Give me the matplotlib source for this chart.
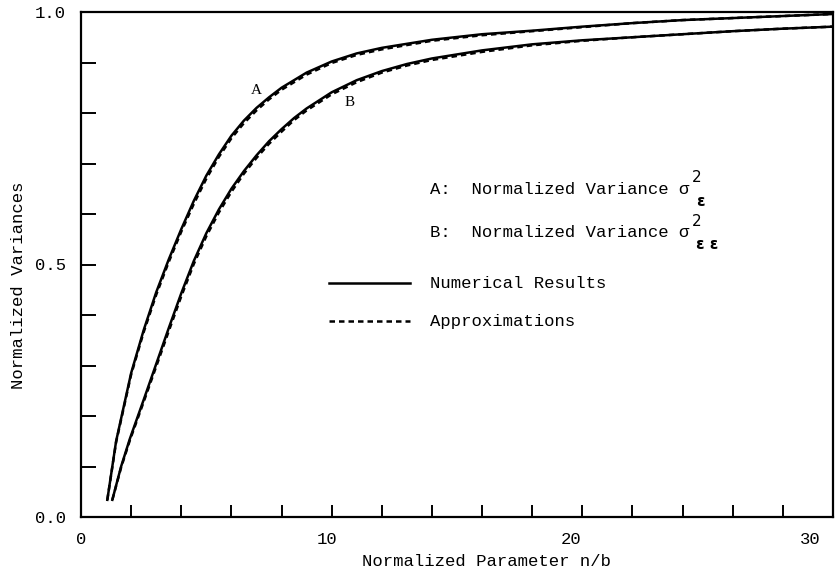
import matplotlib
matplotlib.use("Agg")
import matplotlib.pyplot as plt
from matplotlib.lines import Line2D
from matplotlib.transforms import ScaledTranslation

# ---- Data ----
n_a = [1.05, 1.4, 2.0, 2.5, 3.0, 3.5, 4.0, 4.5, 5.0, 5.5, 6.0, 6.5, 7.0, 7.5,
       8.0, 9.0, 10.0, 11.0, 12.0, 14.0, 16.0, 18.0, 20.0, 22.0, 24.0, 26.0,
       28.0, 30.0]
var_a_num = [0.034, 0.150, 0.285, 0.370, 0.445, 0.510, 0.570, 0.626, 0.676, 0.718,
             0.755, 0.785, 0.810, 0.831, 0.850, 0.880, 0.902, 0.918, 0.929, 0.945,
             0.956, 0.963, 0.971, 0.978, 0.984, 0.988, 0.992, 0.996]
var_a_apx = [0.034, 0.148, 0.282, 0.366, 0.440, 0.505, 0.565, 0.620, 0.670, 0.713,
             0.750, 0.780, 0.805, 0.827, 0.846, 0.876, 0.899, 0.915, 0.926, 0.943,
             0.954, 0.962, 0.970, 0.978, 0.984, 0.988, 0.992, 0.996]

n_b = [1.25, 1.6, 1.95, 2.5, 3.0, 3.5, 4.0, 4.5, 5.0, 5.5, 6.0, 6.5, 7.0, 7.5,
       8.0, 8.5, 9.0, 10.0, 11.0, 12.0, 13.0, 14.0, 16.0, 18.0, 20.0, 22.0,
       24.0, 26.0, 28.0, 30.0]
var_b_num = [0.034, 0.100, 0.155, 0.232, 0.303, 0.374, 0.443, 0.507, 0.562, 0.609,
             0.650, 0.685, 0.716, 0.744, 0.768, 0.790, 0.809, 0.841, 0.865, 0.883,
             0.897, 0.908, 0.924, 0.936, 0.944, 0.950, 0.956, 0.962, 0.967, 0.971]
var_b_apx = [0.034, 0.098, 0.152, 0.228, 0.298, 0.368, 0.437, 0.501, 0.556, 0.603,
             0.644, 0.680, 0.711, 0.739, 0.763, 0.786, 0.805, 0.837, 0.861, 0.880,
             0.894, 0.905, 0.921, 0.934, 0.943, 0.950, 0.956, 0.962, 0.967, 0.971]

x_ticks = list(range(0, 31, 2))
x_labels = ["0" if t == 0 else str(t) if t % 10 == 0 else "" for t in x_ticks]
y_ticks = [i / 10 for i in range(11)]
y_labels = ["0.0", "", "", "", "", "0.5", "", "", "", "", "1.0"]

MONO = "Liberation Mono"
FS = 12.4
W, H = 836, 585
DASH = (0, (2.2, 1.6))


def fx(px):
    return px / W


def fy(py):
    return 1 - py / H


plt.rcParams["font.family"] = [MONO, "DejaVu Sans"]

fig = plt.figure(figsize=(W / 100, H / 100), dpi=100)
ax = fig.add_axes([81 / W, (H - 517) / H, 752 / W, 505 / H])

ax.plot(n_a, var_a_num, color="black", lw=1.8)
ax.plot(n_a, var_a_apx, color="black", lw=1.8, ls=DASH)
ax.plot(n_b, var_b_num, color="black", lw=1.8)
ax.plot(n_b, var_b_apx, color="black", lw=1.8, ls=DASH)

ax.set_xlim(0, 30)
ax.set_ylim(0, 1.0)
ax.set_xticks(x_ticks, x_labels)
ax.set_yticks(y_ticks, y_labels)
ax.tick_params(axis="x", direction="in", length=8.6, width=1.4, pad=11,
               labelsize=FS)
ax.tick_params(axis="y", direction="in", length=10.8, width=1.4, pad=11,
               labelsize=FS)
for s in ax.spines.values():
    s.set_linewidth(1.6)

# the scanned labels drift left of their ticks a little
shift_px = {"10": -5, "20": -11, "30": -23}
for lab in ax.get_xticklabels():
    dx = shift_px.get(lab.get_text(), 0)
    if dx:
        lab.set_transform(lab.get_transform()
                          + ScaledTranslation(dx / 100, 0, fig.dpi_scale_trans))

# curve labels
ax.text(6.98, 0.844, "A", family="Liberation Serif", fontsize=11,
        ha="center", va="center")
ax.text(10.73, 0.820, "B", family="Liberation Serif", fontsize=11,
        ha="center", va="center")

# axis titles
fig.text(fx(487), fy(562), "Normalized Parameter n/b", fontsize=FS,
         ha="center", va="center")
fig.text(fx(19), fy(285), "Normalized Variances", fontsize=FS,
         rotation=90, ha="center", va="center")

# in-plot key
fig.text(fx(430), fy(189), "A:  Normalized Variance σ", fontsize=FS,
         ha="left", va="center")
fig.text(fx(692), fy(178), "2", family="DejaVu Sans", fontsize=11,
         ha="left", va="center")
fig.text(fx(696), fy(202), "ε", family="DejaVu Sans", fontsize=11,
         weight="bold", ha="left", va="center")

fig.text(fx(430), fy(233), "B:  Normalized Variance σ", fontsize=FS,
         ha="left", va="center")
fig.text(fx(692), fy(221), "2", family="DejaVu Sans", fontsize=11,
         ha="left", va="center")
fig.text(fx(696), fy(244), "ε ε", family="DejaVu Sans", fontsize=11,
         weight="bold", ha="left", va="center")

fig.add_artist(Line2D([fx(329), fx(410)], [fy(283), fy(283)], color="black",
                      lw=1.8, transform=fig.transFigure))
fig.add_artist(Line2D([fx(329), fx(410)], [fy(321), fy(321)], color="black",
                      lw=1.8, ls=DASH, transform=fig.transFigure))
fig.text(fx(430), fy(283), "Numerical Results", fontsize=FS,
         ha="left", va="center")
fig.text(fx(430), fy(321), "Approximations", fontsize=FS,
         ha="left", va="center")

fig.savefig("out.png", dpi=100)
